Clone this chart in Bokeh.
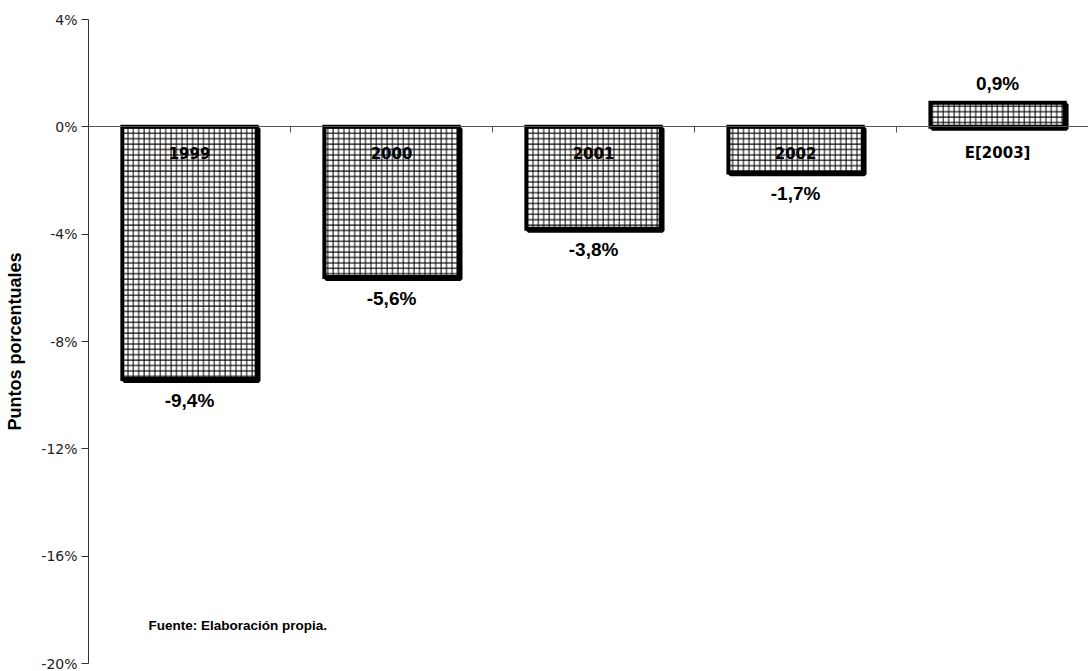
from bokeh.plotting import figure
from bokeh.models import ColumnDataSource, FixedTicker, LinearAxis, Range1d, Label
from bokeh.transform import dodge
from bokeh.core.properties import value
from bokeh.embed import file_html
from bokeh.resources import INLINE

# ---- data ----
categories = ["1999", "2000", "2001", "2002", "E[2003]"]
values = [-9.4, -5.6, -3.8, -1.7, 0.9]
y_ticks = [-20, -16, -12, -8, -4, 0, 4]
y_label = "Puntos porcentuales"
source_note = "Fuente: Elaboración propia."

xs = [i + 0.5 for i in range(len(categories))]
tops = [max(v, 0) for v in values]
bottoms = [min(v, 0) for v in values]
labels = [f"{v:.1f}".replace(".", ",") + "%" for v in values]
label_offsets = [21 if v < 0 else -19 for v in values]

src = ColumnDataSource(dict(x=xs, top=tops, bottom=bottoms, val=values,
                            cat=categories, lab=labels, off=label_offsets))

p = figure(width=1088, height=671, output_backend="svg", toolbar_location=None,
           x_range=Range1d(0, 4.95), y_range=Range1d(-20, 4),
           x_axis_type=None, y_axis_type=None,
           min_border_left=88, min_border_right=0, min_border_top=19, min_border_bottom=8)
p.outline_line_color = None
p.xgrid.visible = False
p.ygrid.visible = False
p.background_fill_color = "white"
p.border_fill_color = "white"

# y axis
yax = LinearAxis(ticker=FixedTicker(ticks=y_ticks))
yax.major_label_overrides = {t: f"{t}%" for t in y_ticks}
yax.major_tick_out = 7
yax.major_tick_in = 0
yax.minor_tick_line_color = None
yax.major_label_standoff = 4
yax.axis_line_color = "#333333"
yax.major_tick_line_color = "#333333"
yax.major_label_text_font = "DejaVu Sans"
yax.major_label_text_font_size = "14px"
yax.major_label_text_color = "#222222"
yax.axis_label = y_label
yax.axis_label_text_font = "Liberation Sans"
yax.axis_label_text_font_style = "bold"
yax.axis_label_text_font_size = "18px"
yax.axis_label_text_color = "black"
yax.axis_label_standoff = 13
p.add_layout(yax, "left")

# x axis at zero
xax = LinearAxis(ticker=FixedTicker(ticks=[1, 2, 3, 4]), fixed_location=0)
xax.major_tick_out = 6
xax.major_tick_in = 0
xax.minor_tick_line_color = None
xax.axis_line_color = "#555555"
xax.major_tick_line_color = "#555555"
xax.major_label_text_alpha = 0
p.add_layout(xax, "below")

bw = 0.665
# shadow
p.vbar(x=dodge("x", 0.009, range=p.x_range), width=bw,
       top=dodge("top", -0.07, range=p.y_range), bottom=dodge("bottom", -0.07, range=p.y_range),
       source=src, fill_color="black", line_color="black", line_width=4)
# bars
p.vbar(x="x", width=bw, top="top", bottom="bottom", source=src,
       fill_color="white", line_color="black", line_width=4, line_join="miter",
       hatch_pattern="+", hatch_color="black", hatch_scale=5.4, hatch_weight=1)

# category labels
p.text(x="x", y=0, text="cat", source=src, y_offset=26,
       text_align="center", text_baseline="middle",
       text_font=value("DejaVu Sans"), text_font_style="bold", text_font_size="15px",
       text_color="black")
# value labels
p.text(x="x", y="val", text="lab", source=src, y_offset="off",
       text_align="center", text_baseline="middle",
       text_font=value("Liberation Sans"), text_font_style="bold", text_font_size="19px",
       text_color="black")

p.add_layout(Label(x=60, y=31, x_units="screen", y_units="screen", text=source_note,
                   text_font="Liberation Sans", text_font_style="bold",
                   text_font_size="13.5px", text_color="black"))

open("out.html", "w").write(file_html(p, INLINE))
